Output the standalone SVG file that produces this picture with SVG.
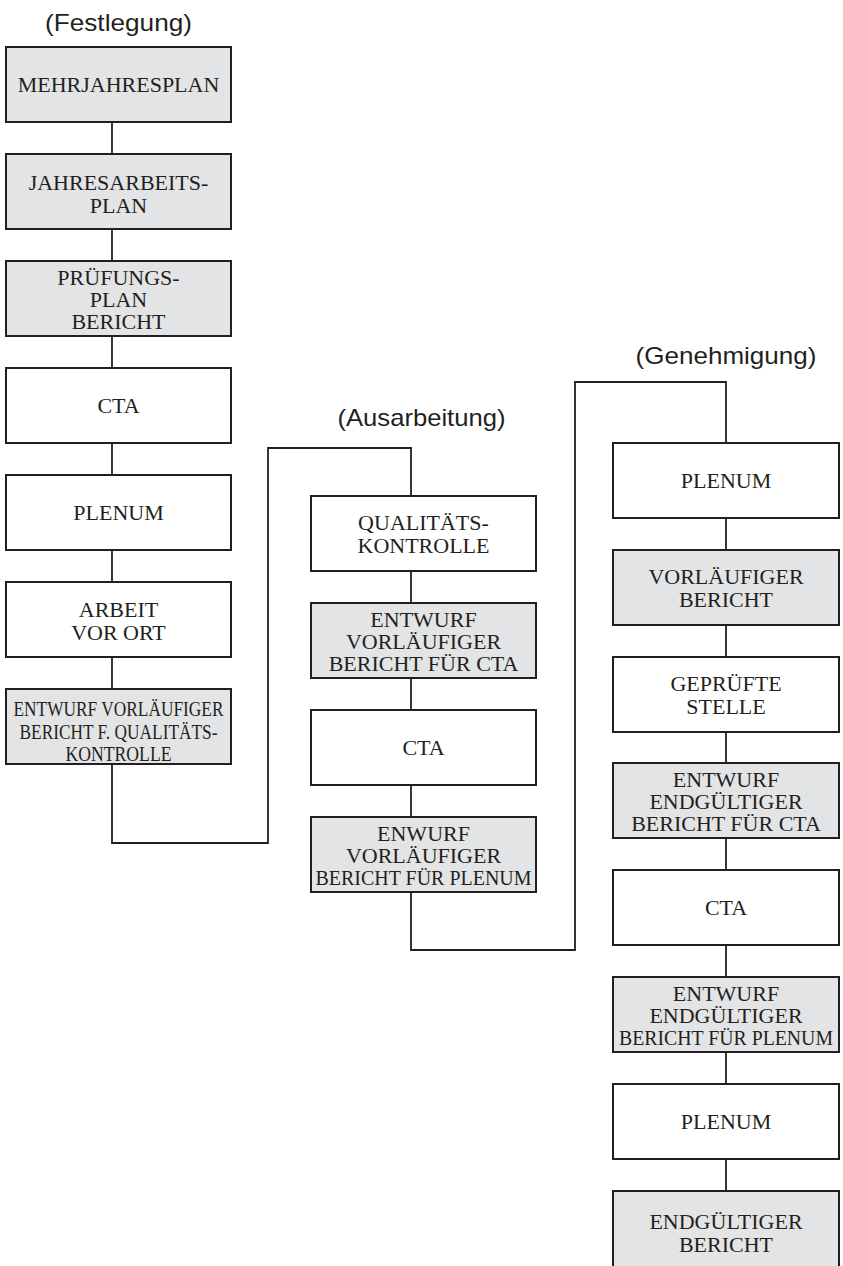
<svg xmlns="http://www.w3.org/2000/svg" width="843" height="1266" viewBox="0 0 843 1266">
  <style>
    .box { stroke: #231f20; stroke-width: 2; }
    .grey { fill: #e3e4e6; }
    .white { fill: #ffffff; }
    .lbl { font-family: "Liberation Serif", "Times New Roman", serif; font-size: 22px; fill: #231f20; text-anchor: middle; }
    .title { font-family: "Liberation Sans", Arial, sans-serif; font-size: 24px; fill: #231f20; text-anchor: middle; }
    .wire { fill: none; stroke: #231f20; stroke-width: 1.8; }
  </style>
  <rect width="843" height="1266" fill="#ffffff"/>

  <!-- phase headings -->
  <text class="title" x="118.5" y="31" textLength="147" lengthAdjust="spacingAndGlyphs">(Festlegung)</text>
  <text class="title" x="421.5" y="426" textLength="168" lengthAdjust="spacingAndGlyphs">(Ausarbeitung)</text>
  <text class="title" x="726" y="364" textLength="181" lengthAdjust="spacingAndGlyphs">(Genehmigung)</text>

  <!-- connectors -->
  <g id="connectors" class="wire">
    <!-- column 1 -->
    <line x1="112" y1="122" x2="112" y2="154"/>
    <line x1="112" y1="229" x2="112" y2="261"/>
    <line x1="112" y1="336" x2="112" y2="368"/>
    <line x1="112" y1="443" x2="112" y2="475"/>
    <line x1="112" y1="550" x2="112" y2="582"/>
    <line x1="112" y1="657" x2="112" y2="689"/>
    <polyline points="112,764 112,843 268,843 268,448 411,448 411,496"/>
    <!-- column 2 -->
    <line x1="411" y1="571" x2="411" y2="603"/>
    <line x1="411" y1="678" x2="411" y2="710"/>
    <line x1="411" y1="785" x2="411" y2="817"/>
    <polyline points="411,892 411,950 575,950 575,382 726,382 726,443"/>
    <!-- column 3 -->
    <line x1="726" y1="518" x2="726" y2="550"/>
    <line x1="726" y1="625" x2="726" y2="657"/>
    <line x1="726" y1="732" x2="726" y2="763"/>
    <line x1="726" y1="838" x2="726" y2="870"/>
    <line x1="726" y1="945" x2="726" y2="977"/>
    <line x1="726" y1="1052" x2="726" y2="1084"/>
    <line x1="726" y1="1159" x2="726" y2="1191"/>
  </g>

  <!-- column 1: Festlegung -->
  <g id="n-mehrjahresplan">
    <rect class="box grey" x="6" y="47" width="225" height="75"/>
    <text class="lbl" x="118.5" y="92">MEHRJAHRESPLAN</text>
  </g>
  <g id="n-jahresarbeitsplan">
    <rect class="box grey" x="6" y="154" width="225" height="75"/>
    <text class="lbl" x="118.5" y="190">JAHRESARBEITS-</text>
    <text class="lbl" x="118.5" y="213">PLAN</text>
  </g>
  <g id="n-pruefungsplan">
    <rect class="box grey" x="6" y="261" width="225" height="75"/>
    <text class="lbl" x="118.5" y="285">PRÜFUNGS-</text>
    <text class="lbl" x="118.5" y="307">PLAN</text>
    <text class="lbl" x="118.5" y="329">BERICHT</text>
  </g>
  <g id="n-cta-1">
    <rect class="box white" x="6" y="368" width="225" height="75"/>
    <text class="lbl" x="118.5" y="413">CTA</text>
  </g>
  <g id="n-plenum-1">
    <rect class="box white" x="6" y="475" width="225" height="75"/>
    <text class="lbl" x="118.5" y="520">PLENUM</text>
  </g>
  <g id="n-arbeit-vor-ort">
    <rect class="box white" x="6" y="582" width="225" height="75"/>
    <text class="lbl" x="118.5" y="617">ARBEIT</text>
    <text class="lbl" x="118.5" y="640">VOR ORT</text>
  </g>
  <g id="n-entwurf-qk">
    <rect class="box grey" x="6" y="689" width="225" height="75"/>
    <text class="lbl" x="118.5" y="716" textLength="210" lengthAdjust="spacingAndGlyphs">ENTWURF VORLÄUFIGER</text>
    <text class="lbl" x="118.5" y="739" textLength="198" lengthAdjust="spacingAndGlyphs">BERICHT F. QUALITÄTS-</text>
    <text class="lbl" x="118.5" y="761" textLength="106" lengthAdjust="spacingAndGlyphs">KONTROLLE</text>
  </g>

  <!-- column 2: Ausarbeitung -->
  <g id="n-qualitaetskontrolle">
    <rect class="box white" x="311" y="496" width="225" height="75"/>
    <text class="lbl" x="423.5" y="530">QUALITÄTS-</text>
    <text class="lbl" x="423.5" y="553">KONTROLLE</text>
  </g>
  <g id="n-entwurf-vb-cta">
    <rect class="box grey" x="311" y="603" width="225" height="75"/>
    <text class="lbl" x="423.5" y="627">ENTWURF</text>
    <text class="lbl" x="423.5" y="649">VORLÄUFIGER</text>
    <text class="lbl" x="423.5" y="671">BERICHT FÜR CTA</text>
  </g>
  <g id="n-cta-2">
    <rect class="box white" x="311" y="710" width="225" height="75"/>
    <text class="lbl" x="423.5" y="755">CTA</text>
  </g>
  <g id="n-enwurf-vb-plenum">
    <rect class="box grey" x="311" y="817" width="225" height="75"/>
    <text class="lbl" x="423.5" y="841">ENWURF</text>
    <text class="lbl" x="423.5" y="863">VORLÄUFIGER</text>
    <text class="lbl" x="423.5" y="885" textLength="216" lengthAdjust="spacingAndGlyphs">BERICHT FÜR PLENUM</text>
  </g>

  <!-- column 3: Genehmigung -->
  <g id="n-plenum-2">
    <rect class="box white" x="613" y="443" width="226" height="75"/>
    <text class="lbl" x="726" y="488">PLENUM</text>
  </g>
  <g id="n-vorlaeufiger-bericht">
    <rect class="box grey" x="613" y="550" width="226" height="75"/>
    <text class="lbl" x="726" y="584">VORLÄUFIGER</text>
    <text class="lbl" x="726" y="607">BERICHT</text>
  </g>
  <g id="n-gepruefte-stelle">
    <rect class="box white" x="613" y="657" width="226" height="75"/>
    <text class="lbl" x="726" y="691">GEPRÜFTE</text>
    <text class="lbl" x="726" y="714">STELLE</text>
  </g>
  <g id="n-entwurf-eb-cta">
    <rect class="box grey" x="613" y="763" width="226" height="75"/>
    <text class="lbl" x="726" y="787">ENTWURF</text>
    <text class="lbl" x="726" y="809">ENDGÜLTIGER</text>
    <text class="lbl" x="726" y="831">BERICHT FÜR CTA</text>
  </g>
  <g id="n-cta-3">
    <rect class="box white" x="613" y="870" width="226" height="75"/>
    <text class="lbl" x="726" y="915">CTA</text>
  </g>
  <g id="n-entwurf-eb-plenum">
    <rect class="box grey" x="613" y="977" width="226" height="75"/>
    <text class="lbl" x="726" y="1001">ENTWURF</text>
    <text class="lbl" x="726" y="1023">ENDGÜLTIGER</text>
    <text class="lbl" x="726" y="1045" textLength="214" lengthAdjust="spacingAndGlyphs">BERICHT FÜR PLENUM</text>
  </g>
  <g id="n-plenum-3">
    <rect class="box white" x="613" y="1084" width="226" height="75"/>
    <text class="lbl" x="726" y="1129">PLENUM</text>
  </g>
  <g id="n-endgueltiger-bericht">
    <rect class="box grey" x="613" y="1191" width="226" height="80"/>
    <text class="lbl" x="726" y="1229">ENDGÜLTIGER</text>
    <text class="lbl" x="726" y="1252">BERICHT</text>
  </g>
</svg>
